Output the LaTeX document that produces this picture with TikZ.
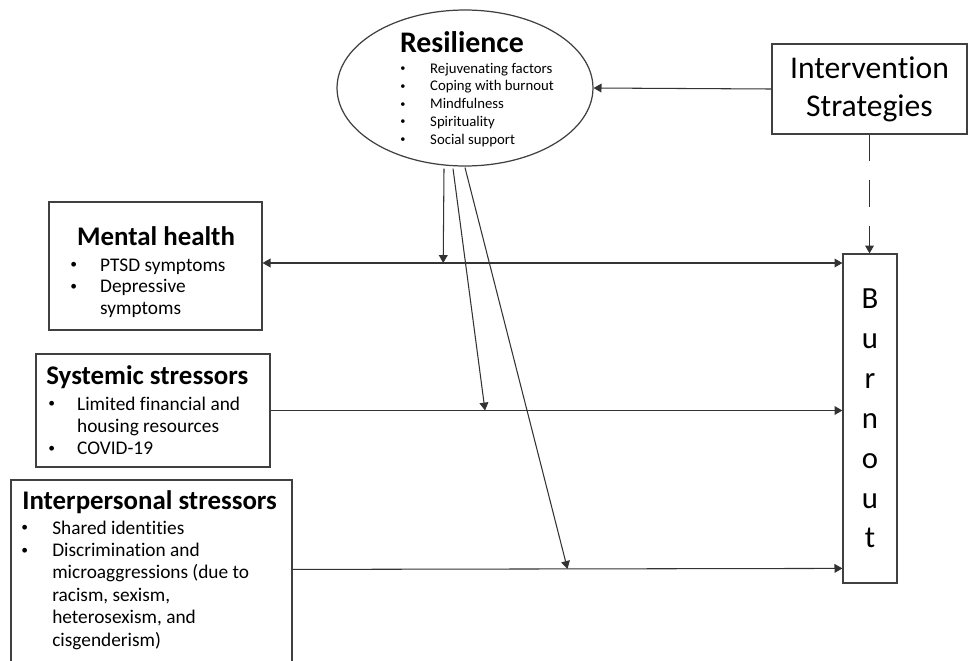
\documentclass[tikz,border=0pt]{standalone}
\usepackage{fontspec}
\setmainfont{Carlito}[Ligatures=NoCommon]
\usepackage{tikz}
\usetikzlibrary{arrows.meta,calc,shapes.geometric}
\newcommand{\itm}{\raisebox{0.12em}{\scalebox{0.7}{\textbullet}}}

\begin{document}
\begin{tikzpicture}[x=0.02cm,y=-0.02cm,
    box/.style={draw=black!75, line width=0.7pt, inner sep=0pt},
    arr/.style={draw=black!80, line width=0.6pt, ->, >={Triangle[length=4.5pt,width=5pt]}},
    hd/.style={font=\fontsize{15.3}{18}\selectfont\bfseries, inner sep=0pt},
    lst/.style={font=\fontsize{11}{12.8}\selectfont, inner sep=0pt, anchor=base west}]
    %%Background
    \useasboundingbox (0,0) rectangle (969,660);
    \clip (0,0) rectangle (969,660);

    %% Shapes
    \node[box, ellipse, minimum width=5.12cm, minimum height=3.12cm] (res) at (465,88) {};
    \node[box, align=center, minimum width=3.9cm, minimum height=1.8cm,
          font=\fontsize{18}{21.5}\selectfont] (iv) at (869.5,89) {Intervention\\Strategies};
    \node[box, align=center, minimum width=1.08cm, minimum height=6.58cm,
          font=\fontsize{17.5}{22.7}\selectfont] (bo) at (870,418.5) {B\\u\\r\\n\\o\\u\\t};
    \node[box, minimum width=4.26cm, minimum height=2.56cm] (mh) at (155.5,266) {};
    \node[box, minimum width=4.68cm, minimum height=2.26cm] (sy) at (153,410.5) {};
    \node[box, minimum width=5.62cm, minimum height=4.4cm] (ip) at (151.5,590) {};

    %% Texts
    \node[hd, font=\fontsize{17}{20}\selectfont\bfseries, anchor=base] (restitle) at (462,52) {Resilience};
    \node[lst, font=\fontsize{8.4}{10.2}\selectfont] (reslist) at (400,73) {%
      \begin{tabular}[t]{@{}p{17pt}@{}l@{}}
        \itm & Rejuvenating factors\\
        \itm & Coping with burnout\\
        \itm & Mindfulness\\
        \itm & Spirituality\\
        \itm & Social support
      \end{tabular}};

    \node[hd, anchor=base] (mhtitle) at (156,245) {Mental health};
    \node[lst, font=\fontsize{11}{12.5}\selectfont] (mhlist) at (70,271) {%
      \begin{tabular}[t]{@{}p{17pt}@{}l@{}}
        \itm & PTSD symptoms\\
        \itm & Depressive\\
             & symptoms
      \end{tabular}};

    \node[hd, anchor=base west] (sytitle) at (46,384) {Systemic stressors};
    \node[lst] (sylist) at (48,410) {%
      \begin{tabular}[t]{@{}p{16.4pt}@{}l@{}}
        \itm & Limited financial and\\
             & housing resources\\
        \itm & COVID-19
      \end{tabular}};

    \node[hd, anchor=base west] (iptitle) at (22,509) {Interpersonal stressors};
    \node[lst] (iplist) at (21,534) {%
      \begin{tabular}[t]{@{}p{17.6pt}@{}l@{}}
        \itm & Shared identities\\
        \itm & Discrimination and\\
             & microaggressions (due to\\
             & racism, sexism,\\
             & heterosexism, and\\
             & cisgenderism)
      \end{tabular}};

    %% Connectors
    \draw[arr] (iv.west) -- (res.east);
    \draw[arr, dash pattern=on 15pt off 11pt] (iv.south) -- (iv.south |- bo.north);
    \draw[arr, <->] ($(mh.east)+(0,-3)$) -- coordinate[pos=0.3115] (mhhit) ($(mh.east -| bo.west)+(0,-3)$);
    \draw[arr] (sy.east) -- coordinate[pos=0.375] (syhit) (sy.east -| bo.west);
    \draw[arr] ($(ip.north east)+(0,90)$) -- coordinate[pos=0.5] (iphit) ($(ip.north east -| bo.west)+(0,89)$);

    \draw[arr] ($(res.south)+(-21,2)$) -- (mhhit);
    \draw[arr] ($(res.south)+(-12,2)$) -- (syhit);
    \draw[arr] ($(res.south)+(0,1)$) -- (iphit);

\end{tikzpicture}
\end{document}
